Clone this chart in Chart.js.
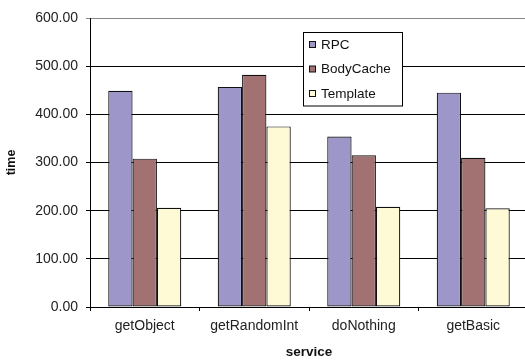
<!DOCTYPE html>
<html>
<head>
<meta charset="utf-8">
<script src="https://cdn.jsdelivr.net/npm/chart.js@4/dist/chart.umd.min.js"></script>
<style>
html,body{margin:0;padding:0;background:#fff;overflow:hidden;}
#wrap{width:530px;height:360px;position:relative;}
</style>
</head>
<body>
<div id="wrap"><canvas id="c"></canvas></div>
<script>
const categories = ["getObject", "getRandomInt", "doNothing", "getBasic"];
const rpcValues = [449, 457, 354, 445];
const bodyCacheValues = [308, 482, 315, 310];
const templateValues = [206, 375, 208, 205];
const seriesNames = ["RPC", "BodyCache", "Template"];
const yTicks = [0, 100, 200, 300, 400, 500, 600];

const colors = ["#9C96C9", "#A27172", "#FFFAD6"];
const FONT = "'Liberation Sans', Arial, sans-serif";

const legendPlugin = {
  id: 'boxLegend',
  afterDatasetsDraw(chart) {
    const ctx = chart.ctx;
    const x0 = 303.5, y0 = 32.5, w = 99, h = 73.5;
    ctx.save();
    ctx.fillStyle = '#fff';
    ctx.fillRect(x0, y0, w, h);
    ctx.strokeStyle = '#000';
    ctx.lineWidth = 1;
    ctx.strokeRect(x0, y0, w, h);
    ctx.font = '13.5px ' + FONT;
    ctx.textBaseline = 'middle';
    chart.data.datasets.forEach((ds, i) => {
      const cy = 44.5 + i * 24.5;
      ctx.fillStyle = ds.backgroundColor;
      ctx.fillRect(309.5, cy - 3, 6, 6);
      ctx.strokeStyle = '#111';
      ctx.strokeRect(309.5, cy - 3, 6, 6);
      ctx.fillStyle = '#111';
      ctx.fillText(ds.label, 321, cy + 0.5);
    });
    ctx.restore();
  }
};

new Chart(document.getElementById('c'), {
  type: 'bar',
  data: {
    labels: categories,
    datasets: [
      {label: seriesNames[0], data: rpcValues, backgroundColor: colors[0]},
      {label: seriesNames[1], data: bodyCacheValues, backgroundColor: colors[1]},
      {label: seriesNames[2], data: templateValues, backgroundColor: colors[2]}
    ].map(d => Object.assign(d, {borderColor: '#111', borderWidth: 1.2, borderSkipped: false}))
  },
  options: {
    responsive: true,
    maintainAspectRatio: false,
    animation: false,
    devicePixelRatio: 1,
    layout: {padding: {top: 18, right: 2, left: 0, bottom: 0}},
    datasets: {bar: {categoryPercentage: 0.667, barPercentage: 1.0}},
    plugins: {legend: {display: false}, tooltip: {enabled: false}},
    scales: {
      x: {
        grid: {drawOnChartArea: false, drawTicks: true, tickLength: 4, color: '#000', offset: true},
        border: {color: '#000'},
        ticks: {color: '#222', font: {family: FONT, size: 14}, padding: 7, maxRotation: 0},
        title: {display: true, text: 'service', color: '#111', font: {family: FONT, size: 13.5, weight: 'bold'}, padding: {top: 0, bottom: 0}},
        afterFit(s) { s.height = 53; }
      },
      y: {
        min: 0, max: 600,
        afterBuildTicks(s) { s.ticks = yTicks.map(v => ({value: v})); },
        grid: {
          color: (c) => (c.tick && c.tick.value === 600) ? '#888' : '#000',
          tickLength: 4,
          lineWidth: 1
        },
        border: {color: '#000'},
        ticks: {color: '#222', font: {family: FONT, size: 14}, padding: 8, callback: (v) => Number(v).toFixed(2)},
        title: {display: true, text: 'time', color: '#111', font: {family: FONT, size: 12.5, weight: 'bold'}, padding: {top: 4, bottom: 0}},
        afterFit(s) { s.width = 90; }
      }
    }
  },
  plugins: [legendPlugin]
});
</script>
</body>
</html>
